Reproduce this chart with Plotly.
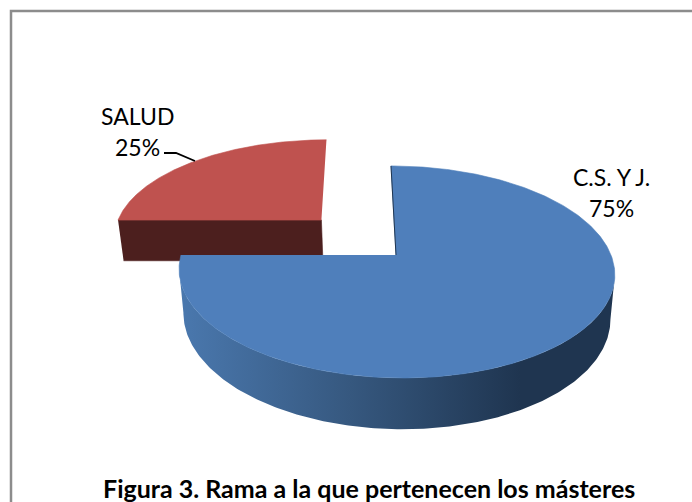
import numpy as np
import plotly.graph_objects as go

categories = ["C.S. Y J.", "SALUD"]
values = [75, 25]
explode = [0.0, 0.505]
top_colors = ["#4f7fbb", "#bf524f"]
wall_colors = ["#1f3550", "#4c1f1e"]

CX, CY, A, B, K, SHEAR = 396.0, 255.0, 215.0, 103.3, 0.16, 0.027
H, BOTTOM_SCALE = 43.0, 0.98


def project(u, v, bottom=False):
    u, v = np.asarray(u, float), np.asarray(v, float)
    w = 1 + K * v
    x = A * (u - SHEAR * v) / w
    y = -B * v / w
    if bottom:
        return CX + x * BOTTOM_SCALE, CY + y + H / w
    return CX + x, CY + y


fig = go.Figure()


def poly(x, y, color, **extra):
    fig.add_trace(go.Scatter(x=list(x), y=list(y), mode="lines", fill="toself",
                             fillcolor=color, hoverinfo="skip",
                             line=dict(color=color, width=0.6), **extra))


total = sum(values)
fracs = [v / total for v in values]
starts = [sum(fracs[:i]) * 2 * np.pi for i in range(len(fracs))]

# back slice first (SALUD), then the front one
for i in [1, 0]:
    mid = starts[i] + fracs[i] * np.pi
    ou, ov = explode[i] * np.sin(mid), explode[i] * np.cos(mid)
    t = np.linspace(starts[i], starts[i] + 2 * np.pi * fracs[i], 360)
    u, v = ou + np.sin(t), ov + np.cos(t)
    if i == 1:
        # visible cut face running from the rim to the centre
        xt0, yt0 = project(np.r_[u[0], ou], np.r_[v[0], ov])
        xb0, yb0 = project(np.r_[ou, u[0]], np.r_[ov, v[0]], bottom=True)
        poly(np.r_[xt0, xb0], np.r_[yt0, yb0], wall_colors[i])
    else:
        # outer wall: front part of the rim, between the two horizontal extremes
        xt, yt = project(u, v)
        xb, yb = project(u, v, bottom=True)
        j0, j1 = int(np.argmax(xt)), int(np.argmin(xt))
        fig.add_trace(go.Scatter(
            x=np.r_[xt[j0:j1 + 1], xb[j0:j1 + 1][::-1]],
            y=np.r_[yt[j0:j1 + 1], yb[j0:j1 + 1][::-1]],
            mode="lines", fill="toself", hoverinfo="skip", line=dict(width=0),
            fillgradient=dict(type="horizontal", start=180, stop=520,
                              colorscale=[[0, "#4a78ae"], [0.5, "#36587f"], [1, "#1f3550"]])))
    xt, yt = project(np.r_[ou, u], np.r_[ov, v])
    poly(xt, yt, top_colors[i])
    if i == 0:
        xe, ye = project(np.r_[ou, u[0]], np.r_[ov, v[0]])
        fig.add_trace(go.Scatter(x=xe, y=ye, mode="lines", hoverinfo="skip",
                                 line=dict(color="#1f3550", width=1)))

# leader line of the SALUD label
fig.add_shape(type="path", path="M164,153 L176,153 L195,161", line=dict(color="black", width=1.8))
# chart frame
fig.add_shape(type="rect", x0=11, y0=11, x1=720, y1=540, line=dict(color="#8c8c8c", width=2.5))

FONT = "Lato, sans-serif"
for txt, x, y in [("SALUD", 137, 116), ("25%", 137, 147), ("C.S. Y J.", 611, 177), ("75%", 611, 208)]:
    fig.add_annotation(x=x, y=y, text=txt, showarrow=False, xanchor="center", yanchor="middle",
                       font=dict(family=FONT, size=23, color="black"))
fig.add_annotation(x=369, y=488, text="<b>Figura 3. Rama a la que pertenecen los másteres</b>",
                   showarrow=False, xanchor="center", yanchor="middle",
                   font=dict(family=FONT, size=25, color="black"))

fig.update_layout(width=692, height=502, margin=dict(l=0, r=0, t=0, b=0), showlegend=False,
                  paper_bgcolor="white", plot_bgcolor="white",
                  xaxis=dict(range=[0, 692], visible=False, fixedrange=True),
                  yaxis=dict(range=[502, 0], visible=False, fixedrange=True))
fig.write_html("out.html", config=dict(displayModeBar=False), default_width="692px", default_height="502px",
               post_script="document.body.style.margin='0';document.body.style.overflow='hidden';")
